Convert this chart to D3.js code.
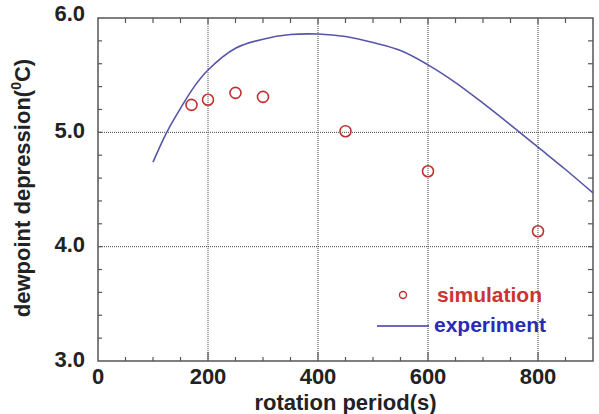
<!DOCTYPE html>
<html><head><meta charset="utf-8">
<script src="https://cdn.jsdelivr.net/npm/d3@7"></script>
<style>body{margin:0;background:#fff}svg{display:block}text{font-family:"Liberation Sans",Arial,sans-serif;font-weight:bold}</style>
</head><body><svg id="c" width="599" height="414"></svg>
<script>
const simX = [170, 200, 250, 300, 450, 600, 800];
const simY = [5.24, 5.285, 5.345, 5.31, 5.01, 4.66, 4.135];
const expX = [100, 125, 150, 175, 200, 250, 300, 350, 400, 450, 500, 550, 600, 650, 700, 750, 800, 850, 900];
const expY = [4.74, 5.0, 5.21, 5.40, 5.545, 5.735, 5.815, 5.855, 5.86, 5.838, 5.785, 5.715, 5.59, 5.435, 5.255, 5.065, 4.87, 4.675, 4.47];
const xTicks = [0, 200, 400, 600, 800];
const yTicks = [3.0, 4.0, 5.0, 6.0];
const legendLabels = ["simulation", "experiment"];

const svg = d3.select("#c");
const L = 98, R = 593, T = 18, B = 361;
const x = d3.scaleLinear().domain([0, 900]).range([L, R]);
const y = d3.scaleLinear().domain([3, 6]).range([B, T]);

// grid
const g = svg.append("g");
g.selectAll(".gx").data(xTicks.filter(d => d > 0)).enter().append("line")
  .attr("x1", d => x(d)).attr("x2", d => x(d)).attr("y1", T).attr("y2", B)
  .attr("stroke", "#444").attr("stroke-width", 1).attr("stroke-dasharray", "1,1");
g.selectAll(".gy").data(yTicks.filter(d => d > 3 && d < 6)).enter().append("line")
  .attr("y1", d => y(d)).attr("y2", d => y(d)).attr("x1", L).attr("x2", R)
  .attr("stroke", "#444").attr("stroke-width", 1).attr("stroke-dasharray", "1,1");

// minor ticks
const xMinor = d3.range(50, 900, 50);
const yMinor = d3.range(3.2, 5.99, 0.2);
const tk = svg.append("g").attr("stroke", "#555").attr("stroke-width", 1.2);
xMinor.forEach(v => {
  const major = v % 200 === 0;
  tk.append("line").attr("x1", x(v)).attr("x2", x(v)).attr("y1", B).attr("y2", B - (major ? 9 : 4));
  tk.append("line").attr("x1", x(v)).attr("x2", x(v)).attr("y1", T).attr("y2", T + (major ? 6 : 5));
});
yMinor.forEach(v => {
  tk.append("line").attr("x1", L).attr("x2", L + 4).attr("y1", y(v)).attr("y2", y(v));
  tk.append("line").attr("x1", R).attr("x2", R - 5).attr("y1", y(v)).attr("y2", y(v));
});

// frame
svg.append("rect").attr("x", L).attr("y", T).attr("width", R - L).attr("height", B - T)
  .attr("fill", "none").attr("stroke", "#555").attr("stroke-width", 1.5);

// axes labels
svg.selectAll(".xt").data(xTicks).enter().append("text")
  .attr("x", d => x(d)).attr("y", 384).attr("text-anchor", "middle")
  .attr("font-size", 22).attr("fill", "#222").text(d => d);
svg.selectAll(".yt").data(yTicks).enter().append("text")
  .attr("x", 85).attr("y", d => y(d) - (d === 6 ? 5 : 2)).attr("dy", "0.35em").attr("text-anchor", "end")
  .attr("font-size", 22).attr("fill", "#222").text(d => d.toFixed(1));

svg.append("text").attr("x", (L + R) / 2).attr("y", 410).attr("text-anchor", "middle")
  .attr("font-size", 22).attr("fill", "#222").text("rotation period(s)");
const yt = svg.append("text").attr("transform", `translate(30,${(53 + 323) / 2}) rotate(-90)`)
  .attr("text-anchor", "middle").attr("font-size", 22).attr("fill", "#222");
yt.append("tspan").text("dewpoint depression(");
yt.append("tspan").attr("font-size", 14).attr("dy", -9).text("0");
yt.append("tspan").attr("dy", 9).text("C)");

// experiment line
const line = d3.line().x((d, i) => x(expX[i])).y(d => y(d)).curve(d3.curveCatmullRom);
svg.append("path").attr("d", line(expY)).attr("fill", "none")
  .attr("stroke", "#5656a8").attr("stroke-width", 1.6);

// simulation points
svg.selectAll(".sim").data(simY).enter().append("circle")
  .attr("cx", (d, i) => x(simX[i])).attr("cy", d => y(d)).attr("r", 5.5)
  .attr("fill", "none").attr("stroke", "#c03030").attr("stroke-width", 1.6);

// legend
svg.append("circle").attr("cx", 403).attr("cy", 295).attr("r", 3.5)
  .attr("fill", "none").attr("stroke", "#c03030").attr("stroke-width", 1.4);
svg.append("line").attr("x1", 377).attr("x2", 429).attr("y1", 326).attr("y2", 326)
  .attr("stroke", "#3a3aa0").attr("stroke-width", 1.6);
svg.append("text").attr("x", 437).attr("y", 302).attr("font-size", 21).attr("fill", "#cc3333").text(legendLabels[0]);
svg.append("text").attr("x", 434).attr("y", 332).attr("font-size", 21).attr("fill", "#2a2ab8").text(legendLabels[1]);
</script></body></html>
